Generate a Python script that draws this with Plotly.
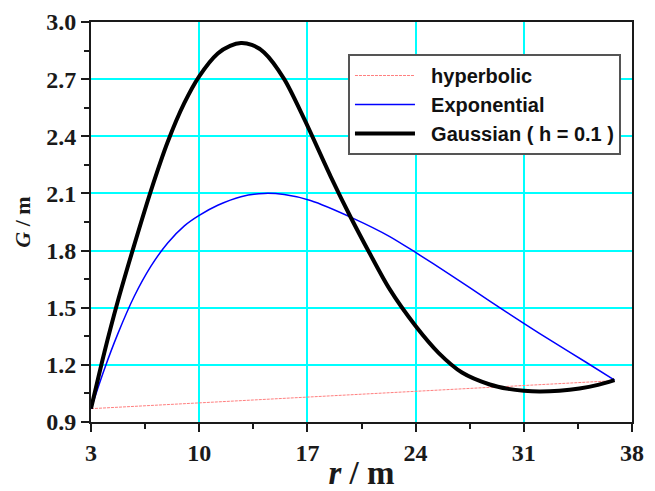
import plotly.graph_objects as go

# radius values (m) and G values (m)
r_hyper = [3.0, 17.2, 36.87]
g_hyper = [0.97, 1.033, 1.117]

r_expo = [3.0, 3.86, 4.72, 5.8, 6.88, 7.96, 9.04, 10.0, 11.2, 12.7, 14.2, 15.5,
          17.2, 20.0, 22.3, 24.0, 26.2, 28.8, 31.0, 33.0, 35.0, 36.87]
g_expo = [0.97, 1.176, 1.36, 1.56, 1.718, 1.84, 1.93, 1.985, 2.038, 2.083, 2.10, 2.094,
          2.063, 1.968, 1.875, 1.79, 1.675, 1.535, 1.418, 1.315, 1.215, 1.12]

r_gauss = [3.0, 3.86, 4.72, 5.8, 6.88, 7.96, 9.04, 10.0, 11.2, 12.0, 12.7, 13.4,
           14.2, 15.5, 16.8, 18.5, 19.8, 21.0, 22.3, 24.0, 25.5, 27.0, 28.8, 30.0,
           31.0, 32.0, 33.3, 34.6, 35.8, 36.87]
g_gauss = [0.97, 1.264, 1.53, 1.83, 2.115, 2.37, 2.575, 2.715, 2.835, 2.875, 2.89, 2.88,
           2.84, 2.70, 2.49, 2.19, 1.975, 1.79, 1.60, 1.404, 1.262, 1.16, 1.097, 1.074,
           1.064, 1.06, 1.064, 1.076, 1.095, 1.12]

x_ticks = [3, 10, 17, 24, 31, 38]
y_ticks = [0.9, 1.2, 1.5, 1.8, 2.1, 2.4, 2.7, 3.0]

SERIF = "Liberation Serif"
SANS = "Liberation Sans"
INK = "#1a1a1a"
PAD = "\u00a0\u00a0"  # small gap between legend line and label

fig = go.Figure()
fig.add_trace(go.Scatter(
    x=r_hyper, y=g_hyper, mode="lines", name=PAD + "hyperbolic",
    line=dict(color="#FF7F7F", width=1, dash="3px,1px"),
))
fig.add_trace(go.Scatter(
    x=r_expo, y=g_expo, mode="lines", name=PAD + "Exponential",
    line=dict(color="#0000FF", width=1.5, shape="spline", smoothing=0.8),
))
fig.add_trace(go.Scatter(
    x=r_gauss, y=g_gauss, mode="lines", name=PAD + "Gaussian ( h = 0.1 )",
    line=dict(color="#000000", width=4, shape="spline", smoothing=0.8),
))

axis_common = dict(
    automargin=False,
    showline=True,
    linecolor=INK,
    linewidth=2,
    mirror=True,
    ticks="outside",
    ticklen=8,
    tickwidth=1.5,
    tickcolor=INK,
    showgrid=True,
    gridcolor="#00FFFF",
    gridwidth=1.5,
    zeroline=False,
    tickfont=dict(family=SERIF, size=24, color=INK, weight="bold"),
)

fig.update_layout(
    width=655,
    height=491,
    margin=dict(l=91, r=23, t=22, b=69),
    plot_bgcolor="white",
    paper_bgcolor="white",
    showlegend=True,
    legend=dict(
        x=0.475, y=0.92, xanchor="left", yanchor="top",
        bgcolor="white",
        bordercolor="#555555",
        borderwidth=2,
        itemwidth=60,
        font=dict(family=SANS, size=20, color="#111111", weight="bold"),
    ),
    xaxis=dict(
        axis_common,
        range=[3, 38],
        tickvals=x_ticks,
        minor=dict(ticks="outside", ticklen=5, tickwidth=1.5, tickcolor=INK,
                   dtick=3.5, tick0=3, showgrid=False),
        title=dict(text="<i>r</i> / m", standoff=4,
                   font=dict(family=SERIF, size=33, color=INK, weight="bold")),
    ),
    yaxis=dict(
        axis_common,
        range=[0.9, 3.0],
        tickvals=y_ticks,
        tickformat=".1f",
        minor=dict(ticks="outside", ticklen=5, tickwidth=1.5, tickcolor=INK,
                   dtick=0.15, tick0=0.9, showgrid=False),
        title=dict(text="<i>G</i> / m", standoff=10,
                   font=dict(family=SERIF, size=22, color=INK, weight="bold")),
    ),
)

# the page's default body margin would shift the fixed-size figure
fig.write_html("out.html", config={"displayModeBar": False},
               post_script="document.body.style.margin='0px';")
